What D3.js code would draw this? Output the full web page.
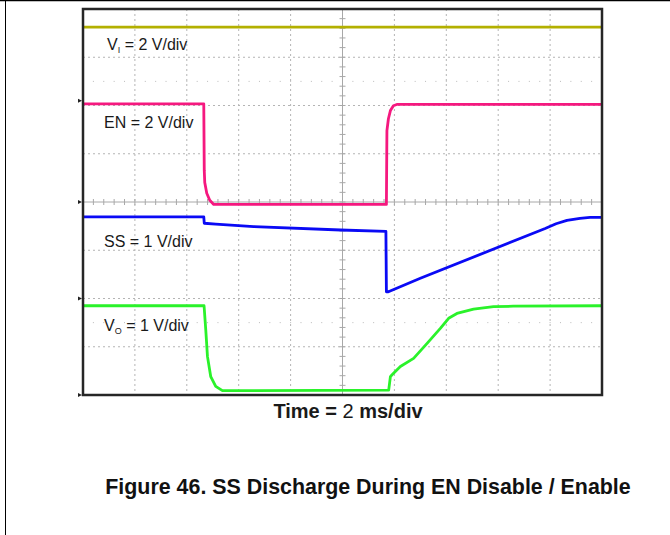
<!DOCTYPE html>
<html>
<head>
<meta charset="utf-8">
<script src="https://cdn.jsdelivr.net/npm/d3@7.9.0/dist/d3.min.js"></script>
<style>
  body { margin: 0; background: #fff; }
  svg { display: block; font-family: "Liberation Sans", Arial, sans-serif; }
</style>
</head>
<body>
<svg id="scope" width="670" height="535"></svg>
<script>
// time in ms (2 ms/div), voltages in volts
const msPerDiv = 2;
const channelNames = ["VI", "EN", "SS", "VO"];
const voltsPerDiv = [2, 2, 1, 1];
const groundDiv = [2.1, 0, -2, -4];   // ground reference marker, divisions from centre
const channelColors = ["#b3b000", "#f5187f", "#0a0af5", "#2af22a"];

const viT = [0, 20];
const viV = [3.05, 3.05];

const enT = [0, 4.654, 4.673, 4.692, 4.769, 4.885, 5.038, 11.692, 11.712, 11.769, 11.846, 11.962, 12.115, 20];
const enV = [4.07, 4.07, 1.31, 0.81, 0.36, 0.07, -0.1, -0.1, 2.96, 3.45, 3.79, 3.99, 4.05, 4.05];

const ssT = [0, 4.654, 4.673, 5.115, 6.577, 9.923, 11.673, 11.692, 11.769, 13.0, 17.81, 18.23, 18.65, 19.15, 19.54, 20];
const ssV = [1.69, 1.69, 1.56, 1.54, 1.49, 1.42, 1.39, 0.14, 0.14, 0.42, 1.45, 1.55, 1.62, 1.66, 1.68, 1.68];

const voT = [0, 4.665, 4.731, 4.796, 4.923, 5.115, 5.373, 11.78, 11.846, 11.91, 12.23, 12.74, 13.26, 13.77, 14.09, 14.41, 15.05, 15.82, 16.58, 20];
const voV = [1.85, 1.85, 1.35, 0.80, 0.38, 0.18, 0.09, 0.10, 0.38, 0.42, 0.59, 0.76, 1.07, 1.38, 1.59, 1.69, 1.78, 1.83, 1.84, 1.85];

const labelText = ["= 2 V/div", "EN = 2 V/div", "SS = 1 V/div", "= 1 V/div"];
const labelPos = [[107, 50], [104, 128], [104, 247], [104, 331]];

const svg = d3.select("#scope");

// page border lines
svg.append("line").attr("x1", 0).attr("x2", 670).attr("y1", 0.5).attr("y2", 0.5)
    .attr("stroke", "#000").attr("stroke-width", 1.5);
svg.append("line").attr("x1", 5.5).attr("x2", 5.5).attr("y1", 0).attr("y2", 535)
    .attr("stroke", "#000").attr("stroke-width", 1);

const plot = { left: 83, right: 602, top: 9, bottom: 395 };

const x = d3.scaleLinear().domain([0, 10 * msPerDiv]).range([plot.left, plot.right]);
const y = d3.scaleLinear().domain([-4, 4]).range([plot.bottom, plot.top]);

const g = svg.append("g");

// dotted graticule
const xDivs = d3.range(1, 10).filter(d => d !== 5);
const yDivs = d3.range(-3, 4).filter(d => d !== 0);
g.selectAll(".vgrid").data(xDivs).enter().append("line")
    .attr("x1", d => x(d * msPerDiv)).attr("x2", d => x(d * msPerDiv))
    .attr("y1", plot.top).attr("y2", plot.bottom)
    .attr("stroke", "#b4b4b4").attr("stroke-width", 1).attr("stroke-dasharray", "2,3");
g.selectAll(".hgrid").data(yDivs).enter().append("line")
    .attr("x1", plot.left).attr("x2", plot.right)
    .attr("y1", d => y(d)).attr("y2", d => y(d))
    .attr("stroke", "#b4b4b4").attr("stroke-width", 1).attr("stroke-dasharray", "2,3");

// sparse dots at +/-2.5 div
const minorT = d3.range(1, 50).map(i => i * msPerDiv / 5);
[-2.5, 2.5].forEach(v => {
    g.selectAll(null).data(minorT).enter().append("rect")
        .attr("x", d => x(d) - 0.5).attr("y", y(v) - 0.5)
        .attr("width", 1).attr("height", 1).attr("fill", "#bbb");
});

// centre axes with minor ticks
g.append("line").attr("x1", plot.left).attr("x2", plot.right)
    .attr("y1", y(0)).attr("y2", y(0)).attr("stroke", "#a8a8a8").attr("stroke-width", 1);
g.append("line").attr("x1", x(5 * msPerDiv)).attr("x2", x(5 * msPerDiv))
    .attr("y1", plot.top).attr("y2", plot.bottom).attr("stroke", "#a8a8a8").attr("stroke-width", 1);
g.selectAll(".xtick").data(minorT).enter().append("line")
    .attr("x1", d => x(d)).attr("x2", d => x(d))
    .attr("y1", y(0) - 3).attr("y2", y(0) + 3)
    .attr("stroke", "#a8a8a8").attr("stroke-width", 1);
const minorV = d3.range(-19, 20).map(i => i / 5);
g.selectAll(".ytick").data(minorV).enter().append("line")
    .attr("x1", x(5 * msPerDiv) - 3).attr("x2", x(5 * msPerDiv) + 3)
    .attr("y1", d => y(d)).attr("y2", d => y(d))
    .attr("stroke", "#a8a8a8").attr("stroke-width", 1);

// traces
const traces = [[viT, viV], [enT, enV], [ssT, ssV], [voT, voV]];
traces.forEach(([ts, vs], i) => {
    const pts = ts.map((t, k) => [t, vs[k] / voltsPerDiv[i] + groundDiv[i]]);
    const line = d3.line().x(d => x(d[0])).y(d => y(d[1]));
    g.append("path").datum(pts)
        .attr("d", line)
        .attr("fill", "none")
        .attr("stroke", channelColors[i])
        .attr("stroke-width", 2.8)
        .attr("stroke-linejoin", "round");
});

// frame
g.append("rect")
    .attr("x", plot.left).attr("y", plot.top)
    .attr("width", plot.right - plot.left).attr("height", plot.bottom - plot.top)
    .attr("fill", "none").attr("stroke", "#262626").attr("stroke-width", 2.5);

// ground markers
g.selectAll(".gnd").data(groundDiv).enter().append("path")
    .attr("d", d => `M${plot.left - 5},${y(d) - 2} L${plot.left - 1},${y(d)} L${plot.left - 5},${y(d) + 2} Z`)
    .attr("fill", "#222");

// channel labels
labelText.forEach((txt, i) => {
    const t = svg.append("text")
        .attr("x", labelPos[i][0]).attr("y", labelPos[i][1])
        .attr("font-size", 16).attr("fill", "#1a1a1a");
    if (i === 0 || i === 3) {
        t.append("tspan").text("V");
        t.append("tspan").attr("font-size", 9).attr("dy", 3).text(i === 0 ? "I" : "O");
        t.append("tspan").attr("dy", -3).text(" " + txt);
    } else {
        t.text(txt);
    }
});

// time base label
const tl = svg.append("text")
    .attr("x", 348).attr("y", 418)
    .attr("text-anchor", "middle").attr("font-size", 20).attr("fill", "#1a1a1a");
tl.append("tspan").attr("font-weight", "bold").text("Time = ");
tl.append("tspan").text(msPerDiv);
tl.append("tspan").attr("font-weight", "bold").text(" ms/div");

svg.append("text")
    .attr("x", 368).attr("y", 494)
    .attr("text-anchor", "middle").attr("font-size", 21.4).attr("font-weight", "bold")
    .attr("fill", "#111")
    .text("Figure 46. SS Discharge During EN Disable / Enable");
</script>
</body>
</html>
